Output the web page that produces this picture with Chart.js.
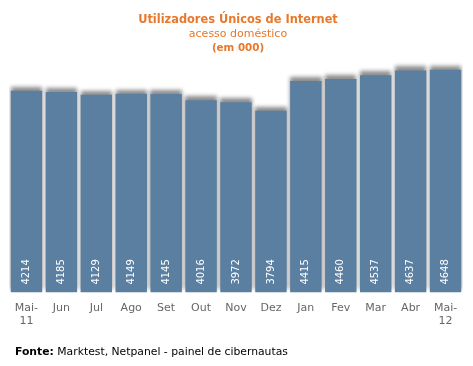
<!DOCTYPE html>
<html>
<head>
<meta charset="utf-8">
<script src="https://cdn.jsdelivr.net/npm/chart.js@4/dist/chart.umd.min.js"></script>
<style>
  html, body { margin: 0; padding: 0; background: #fff; }
  #wrap { position: relative; width: 473px; height: 366px; overflow: hidden; }
  #c { position: absolute; left: 0; top: 0; }
  .t { position: absolute; left: 0; width: 476px; text-align: center; color: #E8782A; font-family: "DejaVu Sans", Verdana, sans-serif; white-space: nowrap; }
  #t1 { top: 12px; font-size: 11.4px; font-weight: bold; }
  #t2 { top: 27px; font-size: 11px; }
  #t3 { top: 41px; font-size: 10.3px; font-weight: bold; }
  #foot { position: absolute; left: 15px; top: 345px; font-family: "DejaVu Sans", Verdana, sans-serif; font-size: 10.8px; color: #000; white-space: nowrap; }
</style>
</head>
<body>
<div id="wrap">
  <canvas id="c" width="473" height="366"></canvas>
  <div class="t" id="t1">Utilizadores Únicos de Internet</div>
  <div class="t" id="t2">acesso doméstico</div>
  <div class="t" id="t3">(em 000)</div>
  <div id="foot"><b>Fonte:</b> Marktest, Netpanel - painel de cibernautas</div>
</div>
<script>
const categories = [["Mai-","11"],"Jun","Jul","Ago","Set","Out","Nov","Dez","Jan","Fev","Mar","Abr",["Mai-","12"]];
const users = [4214,4185,4129,4149,4145,4016,3972,3794,4415,4460,4537,4637,4648];

const shadowPlugin = {
  id: 'barShadow',
  beforeDatasetDraw(chart) {
    const ctx = chart.ctx;
    ctx.save();
    ctx.shadowColor = 'rgba(0,0,0,0.45)';
    ctx.shadowBlur = 4;
    ctx.shadowOffsetX = 0;
    ctx.shadowOffsetY = -4;
  },
  afterDatasetDraw(chart) {
    chart.ctx.restore();
  }
};

const labelPlugin = {
  id: 'valueLabels',
  afterDatasetsDraw(chart) {
    const ctx = chart.ctx;
    const meta = chart.getDatasetMeta(0);
    ctx.save();
    ctx.fillStyle = '#ffffff';
    ctx.font = '10px "DejaVu Sans", Verdana, sans-serif';
    ctx.textAlign = 'left';
    ctx.textBaseline = 'middle';
    meta.data.forEach((bar, i) => {
      ctx.save();
      ctx.translate(bar.x, bar.base - 8);
      ctx.rotate(-Math.PI / 2);
      ctx.fillText(String(users[i]), 0, 0);
      ctx.restore();
    });
    ctx.restore();
  }
};

new Chart(document.getElementById('c'), {
  type: 'bar',
  data: {
    labels: categories,
    datasets: [{
      data: users,
      backgroundColor: '#5A7FA0',
      borderWidth: 0,
      categoryPercentage: 0.9,
      barPercentage: 1.0
    }]
  },
  options: {
    responsive: false,
    animation: false,
    layout: { padding: { left: 9, right: 10, top: 53, bottom: 29 } },
    plugins: { legend: { display: false }, tooltip: { enabled: false }, title: { display: false } },
    scales: {
      x: {
        grid: { display: false, drawTicks: false },
        border: { display: false },
        ticks: { color: '#666666', font: { family: '"DejaVu Sans", Verdana, sans-serif', size: 11 }, padding: 9, maxRotation: 0, autoSkip: false }
      },
      y: {
        display: false,
        min: 0,
        max: 5000
      }
    }
  },
  plugins: [shadowPlugin, labelPlugin]
});
</script>
</body>
</html>
